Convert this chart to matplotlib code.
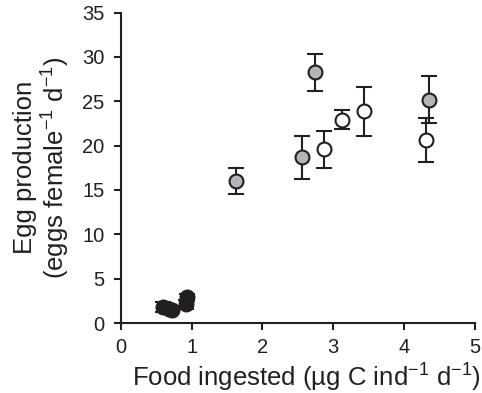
import matplotlib
matplotlib.use("Agg")
import matplotlib.pyplot as plt

plt.rcParams['font.family'] = ['Liberation Sans', 'DejaVu Sans']
plt.rcParams['mathtext.fontset'] = 'custom'
plt.rcParams['mathtext.rm'] = 'Liberation Sans'

# Dark (filled black) points
dark_x = [0.60, 0.68, 0.72, 0.92, 0.94]
dark_y = [1.8, 1.6, 1.5, 2.1, 2.9]
dark_err = [0.6, 0.3, 0.3, 0.5, 0.4]

# Grey points
grey_x = [1.62, 2.56, 2.74, 4.36]
grey_y = [16.0, 18.7, 28.3, 25.2]
grey_lo = [1.5, 2.5, 2.1, 2.7]
grey_hi = [1.5, 2.4, 2.0, 2.6]

# Open points
open_x = [2.87, 3.13, 3.44, 4.31]
open_y = [19.6, 22.9, 23.9, 20.6]
open_lo = [2.1, 1.0, 2.8, 2.5]
open_hi = [2.0, 1.1, 2.7, 2.5]

ink = '#231f20'
fig = plt.figure(figsize=(4.82, 3.93), dpi=100)
ax = fig.add_axes([0.251, 0.178, 0.734, 0.790])

ekw = dict(fmt='o', ecolor=ink, elinewidth=1.5, capsize=5.5, capthick=1.5,
           markersize=10, markeredgewidth=1.5, markeredgecolor=ink)
ax.errorbar(dark_x, dark_y, yerr=dark_err, markerfacecolor=ink, **ekw)
ax.errorbar(grey_x, grey_y, yerr=[grey_lo, grey_hi], markerfacecolor='#b3b5b8', **ekw)
ax.errorbar(open_x, open_y, yerr=[open_lo, open_hi], markerfacecolor='white', **ekw)

ax.set_xlim(0, 5)
ax.set_ylim(0, 35)
ax.set_xticks([0, 1, 2, 3, 4, 5])
ax.set_yticks([0, 5, 10, 15, 20, 25, 30, 35])
for s in ['top', 'right']:
    ax.spines[s].set_visible(False)
for s in ['left', 'bottom']:
    ax.spines[s].set_linewidth(1.5)
    ax.spines[s].set_color(ink)
ax.tick_params(direction='out', length=5, width=1.5, color=ink,
               labelsize=14.5, labelcolor=ink)
ax.tick_params(axis='x', pad=6)
ax.tick_params(axis='y', pad=7)

ax.set_xlabel('Food ingested (µg C ind$^{−1}$ d$^{−1}$)', fontsize=18.5, color=ink)
ax.set_ylabel('Egg production\n(eggs female$^{−1}$ d$^{−1}$)', fontsize=18.5,
              color=ink, linespacing=1.05)
ax.xaxis.set_label_coords(0.525, -0.12)
ax.yaxis.set_label_coords(-0.14, 0.5)

fig.savefig('out.png', dpi=100)
